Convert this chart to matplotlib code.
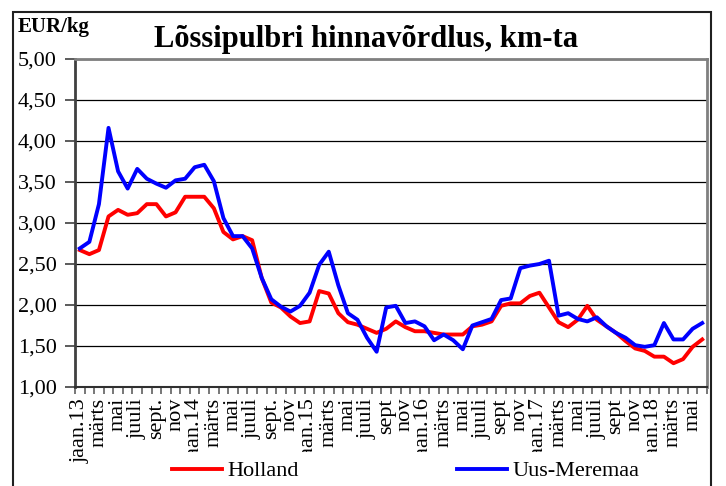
import numpy as np
import matplotlib
matplotlib.use("Agg")
import matplotlib.pyplot as plt
from matplotlib.patches import Rectangle
from matplotlib.transforms import Bbox

# monthly prices, jaan.13 ... juuni 18 (EUR/kg)
holland = [2.67, 2.62, 2.67, 3.08, 3.16, 3.10, 3.12, 3.23, 3.23, 3.08,
           3.13, 3.32, 3.32, 3.32, 3.18, 2.89, 2.80, 2.84, 2.79, 2.33,
           2.03, 1.97, 1.86, 1.78, 1.80, 2.17, 2.14, 1.90, 1.79, 1.76,
           1.71, 1.66, 1.71, 1.80, 1.73, 1.68, 1.68, 1.66, 1.64, 1.64,
           1.64, 1.74, 1.76, 1.80, 1.99, 2.02, 2.02, 2.11, 2.15, 1.97,
           1.79, 1.73, 1.82, 1.99, 1.82, 1.74, 1.66, 1.56, 1.47, 1.44,
           1.37, 1.37, 1.29, 1.34, 1.49, 1.58]
uus_meremaa = [2.69, 2.77, 3.23, 4.16, 3.63, 3.42, 3.66, 3.54, 3.48, 3.43,
               3.52, 3.54, 3.68, 3.71, 3.51, 3.06, 2.84, 2.84, 2.69, 2.33,
               2.07, 1.98, 1.92, 1.99, 2.15, 2.49, 2.65, 2.24, 1.90, 1.82,
               1.60, 1.43, 1.97, 1.99, 1.78, 1.80, 1.74, 1.57, 1.64, 1.57,
               1.46, 1.75, 1.79, 1.83, 2.06, 2.08, 2.45, 2.48, 2.50, 2.54,
               1.87, 1.90, 1.83, 1.80, 1.85, 1.74, 1.66, 1.60, 1.51, 1.49,
               1.51, 1.78, 1.58, 1.58, 1.71, 1.78]

# every second month is labelled
tick_labels = ["jaan.13", "märts", "mai", "juuli", "sept.", "nov",
               "jaan.14", "märts", "mai", "juuli", "sept.", "nov",
               "jaan.15", "märts", "mai", "juuli", "sept", "nov",
               "jaan.16", "märts", "mai", "juuli", "sept", "nov",
               "jaan.17", "märts", "mai", "juuli", "sept", "nov",
               "jaan.18", "märts", "mai"]
y_ticks = [1.0, 1.5, 2.0, 2.5, 3.0, 3.5, 4.0, 4.5, 5.0]

plt.rcParams["font.family"] = ["Liberation Serif", "DejaVu Serif"]

W, H = 726, 486
fig = plt.figure(figsize=(W / 100, H / 100), dpi=100)
ax = fig.add_axes([75 / W, 1 - 387 / H, (707 - 75) / W, (387 - 59) / H])

x = np.arange(len(holland))
ax.plot(x, holland, color="#ff0000", lw=2.8, label="Holland", solid_joinstyle="round")
ax.plot(x, uus_meremaa, color="#0000ff", lw=2.8, label="Uus-Meremaa", solid_joinstyle="round")

ax.set_xlim(-0.5, len(holland) - 0.5)
ax.set_ylim(1.0, 5.0)
ax.set_yticks(y_ticks)
ax.set_yticklabels([f"{v:.2f}".replace(".", ",") for v in y_ticks], fontsize=16)
ax.yaxis.grid(True, color="black", lw=0.9)
ax.set_axisbelow(True)
ax.tick_params(axis="y", length=7, width=1.2, pad=6, color="#404040")

ax.set_xticks(x[::2])
ax.set_xticklabels(tick_labels, rotation=90, fontsize=16, va="top", ha="center")
ax.set_xticks(np.arange(len(holland) + 1) - 0.5, minor=True)
ax.tick_params(axis="x", which="major", length=0, pad=8)
ax.tick_params(axis="x", which="minor", length=5, width=1.2, color="#606060")

for side in ["top", "right"]:
    ax.spines[side].set_color("#808080")
    ax.spines[side].set_linewidth(2)
ax.spines["left"].set_color("#404040")
ax.spines["left"].set_linewidth(2)
ax.spines["bottom"].set_color("#303030")
ax.spines["bottom"].set_linewidth(1.5)

# Excel cuts the rotated labels short, except the first one
clip = Bbox.from_extents(0, H - 452, W, H)
for lab in ax.get_xticklabels()[1:]:
    lab.set_clip_on(True)
    lab.set_clip_box(clip)

fig.text(366 / W, 1 - 40 / H, "Lõssipulbri hinnavõrdlus, km-ta", fontsize=22,
         fontweight="bold", ha="center", va="center")
fig.text(18 / W, 1 - 27 / H, "EUR/kg", fontsize=15, fontweight="bold",
         ha="left", va="center")

fig.legend(loc="center left", bbox_to_anchor=(172 / W, 1 - 471 / H), ncol=2,
           frameon=False, fontsize=16, handlelength=2.25, handletextpad=0.25,
           columnspacing=7.1, borderpad=0, borderaxespad=0)

fig.patches.append(Rectangle((13 / W, -0.05), (711 - 13) / W, 1.05 - 12 / H,
                             transform=fig.transFigure, fill=False,
                             edgecolor="#202020", lw=1.5))

fig.savefig("out.png", dpi=100)
